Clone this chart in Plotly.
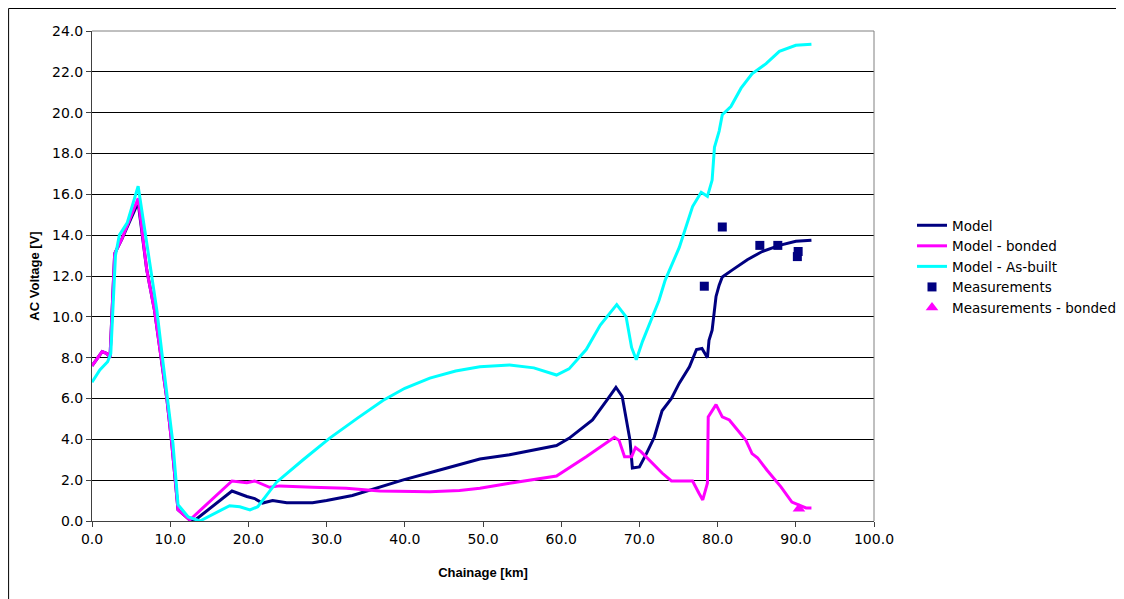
import plotly.graph_objects as go

# ---------------- data ----------------
model_x = [0.0, 1.3, 1.9, 2.3, 2.9, 3.8, 5.9, 7.0, 8.0, 8.9, 9.6, 10.2, 10.6, 11.0, 12.5, 13.2,
           17.9, 19.8, 20.8, 21.8, 23.1, 24.9, 28.2, 30.0, 33.3, 36.8, 39.7, 44.0, 49.6, 53.4, 59.4,
           61.0, 64.0, 65.8, 67.0, 67.8, 68.3, 68.8, 69.1, 70.0, 70.9, 71.9, 72.9, 74.1, 75.1, 76.4,
           77.3, 78.0, 78.7, 78.9, 79.3, 79.8, 80.2, 80.6, 81.9, 83.8, 85.7, 87.9, 90.0, 92.0]
model_y = [7.6, 8.3, 8.2, 8.0, 13.1, 13.8, 15.6, 12.3, 10.3, 7.9, 5.9, 3.8, 2.25, 0.55, 0.05, 0.05,
           1.47, 1.2, 1.1, 0.88, 1.0, 0.9, 0.9, 1.0, 1.25, 1.65, 2.0, 2.45, 3.04, 3.25, 3.7,
           4.05, 4.95, 5.9, 6.55, 6.1, 5.1, 3.95, 2.6, 2.65, 3.3, 4.1, 5.4, 6.0, 6.75, 7.55,
           8.4, 8.45, 8.0, 8.85, 9.35, 11.0, 11.55, 11.95, 12.3, 12.8, 13.2, 13.5, 13.7, 13.75]

bonded_x = [0.0, 1.3, 1.9, 2.3, 2.9, 3.8, 5.9, 7.0, 8.0, 8.9, 9.6, 10.2, 10.6, 11.0, 12.5,
            17.9, 19.8, 20.8, 22.7, 24.0, 28.2, 32.5, 36.8, 43.2, 47.0, 49.6, 53.4, 59.4, 63.2,
            65.3, 66.8, 67.4, 68.1, 69.0, 69.5, 70.2, 71.5, 72.9, 74.1, 76.8, 77.6, 78.1, 78.7,
            78.8, 79.8, 80.6, 81.5, 82.8, 83.6, 84.4, 85.1, 86.3, 88.1, 89.5, 91.3, 92.0]
bonded_y = [7.6, 8.3, 8.2, 8.0, 13.1, 13.8, 15.8, 12.3, 10.3, 7.9, 5.9, 3.8, 2.25, 0.55, 0.05,
            1.96, 1.87, 1.96, 1.65, 1.72, 1.65, 1.6, 1.47, 1.43, 1.5, 1.6, 1.85, 2.2, 3.15,
            3.7, 4.1, 3.95, 3.15, 3.15, 3.6, 3.4, 2.9, 2.35, 1.96, 1.96, 1.37, 1.03, 1.86,
            5.1, 5.7, 5.1, 4.95, 4.36, 3.97, 3.3, 3.1, 2.5, 1.67, 0.93, 0.64, 0.64]

asbuilt_x = [0.0, 1.0, 2.0, 2.4, 3.0, 3.5, 4.5, 5.9, 7.4, 8.3, 9.1, 9.7, 10.35, 11.0, 12.3, 13.8,
             17.6, 18.9, 20.2, 21.2, 23.6, 27.0, 30.4, 34.0, 37.2, 40.0, 43.2, 46.5, 49.6, 53.4,
             56.5, 59.4, 61.0, 63.2, 65.0, 67.1,
             68.3, 69.0, 69.6, 70.4, 71.5, 72.5, 73.3, 75.1, 76.8, 77.9, 78.7, 79.3, 79.6, 80.2,
             80.6, 81.7, 83.0, 84.4, 86.2, 87.9, 90.0, 92.0]
asbuilt_y = [6.8, 7.4, 7.8, 8.2, 13.0, 14.0, 14.6, 16.4, 12.6, 10.3, 7.7, 5.9, 3.8, 0.8, 0.2, 0.0,
             0.75, 0.7, 0.54, 0.7, 1.9, 3.0, 4.06, 5.05, 5.9, 6.5, 7.0, 7.35, 7.55, 7.64,
             7.5, 7.15, 7.45, 8.4, 9.6, 10.6,
             10.0, 8.5, 7.9, 8.8, 9.8, 10.8, 11.8, 13.4, 15.4, 16.1, 15.9, 16.7, 18.3, 19.1,
             19.9, 20.3, 21.2, 21.9, 22.4, 23.0, 23.3, 23.35]

meas_x = [78.3, 80.6, 85.4, 87.7, 90.3, 90.2]
meas_y = [11.5, 14.4, 13.5, 13.5, 13.2, 12.95]

meas_bonded_x = [90.4]
meas_bonded_y = [0.6]

NAVY = "#000080"
MAGENTA = "#FF00FF"
CYAN = "#00FFFF"
FONT = "Liberation Sans, Arial, sans-serif"
WIDE = "DejaVu Sans, Liberation Sans, sans-serif"

fig = go.Figure()
fig.add_trace(go.Scatter(x=model_x, y=model_y, mode="lines", name="Model",
                         line=dict(color=NAVY, width=3)))
fig.add_trace(go.Scatter(x=bonded_x, y=bonded_y, mode="lines", name="Model - bonded",
                         line=dict(color=MAGENTA, width=3)))
fig.add_trace(go.Scatter(x=asbuilt_x, y=asbuilt_y, mode="lines", name="Model - As-built",
                         line=dict(color=CYAN, width=3)))
fig.add_trace(go.Scatter(x=meas_x, y=meas_y, mode="markers", name="Measurements",
                         marker=dict(symbol="square", color=NAVY, size=9)))
fig.add_trace(go.Scatter(x=meas_bonded_x, y=meas_bonded_y, mode="markers",
                         name="Measurements - bonded",
                         marker=dict(symbol="triangle-up", color=MAGENTA, size=11)))

OFF = 8  # page body margin
W, H = 1124, 599
L, R, T, B = 92 - OFF, 875 - OFF, 31 - OFF, 521 - OFF
pw, ph = R - L, B - T

def px2paper_x(px):
    return (px - L) / pw

def py2paper_y(py):
    return (B - py) / ph

fig.update_layout(
    width=W, height=H,
    margin=dict(l=L, r=W - R, t=T, b=H - B, pad=0),
    paper_bgcolor="white", plot_bgcolor="white",
    font=dict(family=FONT, size=14, color="black"),
    showlegend=True,
    legend=dict(x=px2paper_x(904), y=py2paper_y(202), xanchor="left", yanchor="top",
                font=dict(family=WIDE, size=13.5, color="black"),
                bgcolor="rgba(0,0,0,0)", tracegroupgap=0),
    xaxis=dict(range=[0, 100], dtick=10, tick0=0, tickformat=".1f",
               showgrid=False, zeroline=False, showline=True, linecolor="#404040", linewidth=1,
               ticks="outside", ticklen=5, tickcolor="#404040",
               tickfont=dict(family=WIDE, size=14),
               title=dict(text="<b>Chainage [km]</b>", font=dict(family=FONT, size=13), standoff=22)),
    yaxis=dict(range=[0, 24], dtick=2, tick0=0, tickformat=".1f",
               showgrid=True, gridcolor="black", gridwidth=1, zeroline=False,
               showline=True, linecolor="#404040", linewidth=1,
               ticks="outside", ticklen=5, tickcolor="#404040",
               tickfont=dict(family=WIDE, size=14),
               title=dict(text="<b>AC Voltage [V]</b>", font=dict(family=FONT, size=13), standoff=9)),
    shapes=[
        dict(type="line", xref="paper", yref="paper", x0=0, x1=1, y0=1, y1=1,
             line=dict(color="#808080", width=1), layer="above"),
        dict(type="line", xref="paper", yref="paper", x0=1, x1=1, y0=0, y1=1,
             line=dict(color="#808080", width=1), layer="above"),
        dict(type="rect", xref="paper", yref="paper",
             x0=px2paper_x(0.5), x1=px2paper_x(1140), y0=py2paper_y(620), y1=py2paper_y(0.5),
             line=dict(color="black", width=1), fillcolor="rgba(0,0,0,0)", layer="above"),
    ],
)

fig.write_html("out.html")
